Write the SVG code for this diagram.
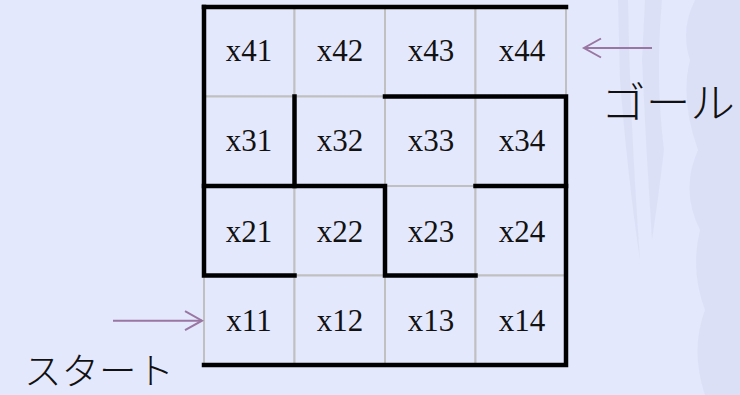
<svg xmlns="http://www.w3.org/2000/svg" width="740" height="395" viewBox="0 0 740 395">
<style>
.cell{fill:#e4e8fc;stroke:#c0c0c0;stroke-width:2}
.lbl{font-family:"Liberation Serif","DejaVu Serif",serif;font-size:31px;fill:#111;text-anchor:middle}
.wall{fill:none;stroke:#000;stroke-width:4.5;stroke-linecap:square}
.arr{fill:none;stroke:#9a76a2;stroke-width:2}
.jp{font-family:"Noto Sans CJK JP",sans-serif;font-weight:300;fill:#111}
.tex{fill:#d2d7f0;opacity:0.45}
</style>
<defs>
<marker id="head" markerUnits="userSpaceOnUse" markerWidth="22" markerHeight="24" refX="18" refY="10.5" orient="auto">
<path d="M1,1 L18,10.5 L1,20" fill="none" stroke="#9a76a2" stroke-width="2"/>
</marker>
</defs>
<rect width="740" height="395" fill="#e4e8fc"/>
<g id="texture">
<path class="tex" d="M695,0 L740,0 L740,395 L705,395 Q690,350 705,310 Q690,270 700,230 Q680,190 698,150 Q680,100 690,60 Q680,30 695,0 Z"/>
<path class="tex" d="M645,0 L662,0 Q655,80 664,150 Q658,200 652,240 Q646,150 642,60 Z" opacity="0.25"/>
<path class="tex" d="M618,0 L628,0 Q630,120 640,260 Q628,180 620,80 Z" opacity="0.2"/>
</g>
<g id="grid">
<g id="x41"><rect class="cell" x="204" y="7" width="90.5" height="89.5"/><text class="lbl" x="249" y="61">x41</text></g>
<g id="x42"><rect class="cell" x="294.5" y="7" width="90.5" height="89.5"/><text class="lbl" x="340" y="61">x42</text></g>
<g id="x43"><rect class="cell" x="385" y="7" width="90.5" height="89.5"/><text class="lbl" x="431" y="61">x43</text></g>
<g id="x44"><rect class="cell" x="475.5" y="7" width="90.5" height="89.5"/><text class="lbl" x="522" y="61">x44</text></g>
<g id="x31"><rect class="cell" x="204" y="96.5" width="90.5" height="89.5"/><text class="lbl" x="249" y="151">x31</text></g>
<g id="x32"><rect class="cell" x="294.5" y="96.5" width="90.5" height="89.5"/><text class="lbl" x="340" y="151">x32</text></g>
<g id="x33"><rect class="cell" x="385" y="96.5" width="90.5" height="89.5"/><text class="lbl" x="431" y="151">x33</text></g>
<g id="x34"><rect class="cell" x="475.5" y="96.5" width="90.5" height="89.5"/><text class="lbl" x="522" y="151">x34</text></g>
<g id="x21"><rect class="cell" x="204" y="186" width="90.5" height="89.5"/><text class="lbl" x="249" y="242">x21</text></g>
<g id="x22"><rect class="cell" x="294.5" y="186" width="90.5" height="89.5"/><text class="lbl" x="340" y="242">x22</text></g>
<g id="x23"><rect class="cell" x="385" y="186" width="90.5" height="89.5"/><text class="lbl" x="431" y="242">x23</text></g>
<g id="x24"><rect class="cell" x="475.5" y="186" width="90.5" height="89.5"/><text class="lbl" x="522" y="242">x24</text></g>
<g id="x11"><rect class="cell" x="204" y="275.5" width="90.5" height="89.5"/><text class="lbl" x="249" y="331">x11</text></g>
<g id="x12"><rect class="cell" x="294.5" y="275.5" width="90.5" height="89.5"/><text class="lbl" x="340" y="331">x12</text></g>
<g id="x13"><rect class="cell" x="385" y="275.5" width="90.5" height="89.5"/><text class="lbl" x="431" y="331">x13</text></g>
<g id="x14"><rect class="cell" x="475.5" y="275.5" width="90.5" height="89.5"/><text class="lbl" x="522" y="331">x14</text></g>
</g>
<g id="walls">
<path class="wall" d="M204,7 H566"/>
<path class="wall" d="M204,7 V275.5 H294.5"/>
<path class="wall" d="M204,365 H566 V96.5 H385"/>
<path class="wall" d="M294.5,96.5 V186"/>
<path class="wall" d="M204,186 H385 V275.5 H475.5"/>
<path class="wall" d="M475.5,186 H566"/>
</g>
<g id="connectors">
<path class="arr" d="M652,48 H584" marker-end="url(#head)"/>
<path class="arr" d="M113,320.7 H202" marker-end="url(#head)"/>
</g>
<g id="goal"><text class="jp" x="601" y="118" font-size="42" textLength="134" lengthAdjust="spacingAndGlyphs">ゴール</text></g>
<g id="start"><text class="jp" x="24" y="385" font-size="37" textLength="150" lengthAdjust="spacingAndGlyphs">スタート</text></g>
</svg>
